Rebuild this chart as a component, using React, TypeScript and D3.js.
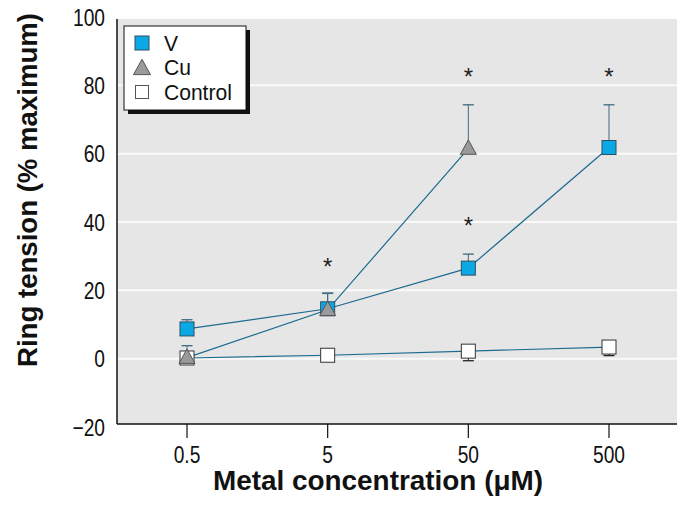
import React from "react";
import * as d3 from "d3";

const concentrations = [0.5, 5, 50, 500];
const xTickLabels = ["0.5", "5", "50", "500"];
const yTicks = [-20, 0, 20, 40, 60, 80, 100];
const gridValues = [0, 20, 40, 60, 80];

const vMean = [8.7, 14.6, 26.5, 61.8];
const vErr = [2.7, 4.6, 4.1, 12.5];
const cuConc = [0.5, 5, 50];
const cuMean = [0.3, 14.3, 61.5];
const cuErr = [3.5, 4.8, 12.8];
const ctrlMean = [0.2, 1.0, 2.2, 3.4];
const ctrlErr = [0.8, 1.8, 2.8, 2.5];

const asterisks = [
  { x: 5, y: 27.7 },
  { x: 50, y: 39.7 },
  { x: 50, y: 83.4 },
  { x: 500, y: 83.4 },
];

const legendItems = ["V", "Cu", "Control"];

const FONT = "'Liberation Sans', Arial, sans-serif";

function T({ x, y, anchor = "start", size = 24, sx = 0.8, weight = "normal", children, dy = "0" }: any) {
  return (
    <text
      transform={`translate(${x},${y}) scale(${sx},1)`}
      dy={dy}
      textAnchor={anchor}
      fontFamily={FONT}
      fontSize={size}
      fontWeight={weight}
      fill="#111"
    >
      {children}
    </text>
  );
}

export default function App() {
  const W = 685, H = 510;
  const plotL = 117, plotR = 677, plotT = 19, plotB = 424;
  const x = d3.scaleLog().domain([0.5, 500]).range([187, 609]);
  const y = d3.scaleLinear().domain([-20, 100]).range([427, 17]);
  const line = d3.line<[number, number]>().x(d => x(d[0])).y(d => y(d[1]));
  const lineColor = "#1d6a90";
  const vFill = "#0aa9e6";
  const cuFill = "#9a9a9a";
  const sq = 14;
  const tri = (cx: number, cy: number, s = 16) => {
    const h = s * 0.9;
    return `M${cx},${cy - h * 0.6} L${cx + s / 2},${cy + h * 0.4} L${cx - s / 2},${cy + h * 0.4} Z`;
  };
  const cap = 5.5;

  return (
    <div style={{ position: "absolute", left: 0, top: 0 }}>
      <svg width={W} height={H} style={{ display: "block", background: "#fff" }}>
        <rect x={plotL} y={plotT} width={plotR - plotL} height={plotB - plotT} fill="#e6e6e6" />
        {gridValues.map(v => (
          <line key={v} x1={plotL} x2={plotR} y1={y(v)} y2={y(v)} stroke="#fafafa" strokeWidth={2} />
        ))}
        {/* axes */}
        <line x1={plotL} x2={plotL} y1={plotT} y2={plotB} stroke="#111" strokeWidth={1.5} />
        <line x1={plotL} x2={plotR} y1={plotB} y2={plotB} stroke="#111" strokeWidth={1.5} />
        {concentrations.map((c, i) => (
          <g key={c}>
            <line x1={x(c)} x2={x(c)} y1={plotB} y2={plotB + 14} stroke="#111" strokeWidth={1.2} />
            <T x={x(c)} y={463} anchor="middle">{xTickLabels[i]}</T>
          </g>
        ))}
        {yTicks.map(v => (
          <T key={v} x={105} y={y(v)} dy="0.36em" anchor="end">
            {v < 0 ? `\u2212${Math.abs(v)}` : v}
          </T>
        ))}
        <text x={378} y={490} textAnchor="middle" fontFamily={FONT} fontSize={27} fontWeight="bold" fill="#111"
          textLength={330} lengthAdjust="spacingAndGlyphs">
          Metal concentration (μM)
        </text>
        <text
          transform={`translate(37,190) rotate(-90)`}
          textAnchor="middle"
          fontFamily={FONT}
          fontSize={27}
          fontWeight="bold"
          fill="#111"
          textLength={354}
          lengthAdjust="spacingAndGlyphs"
        >
          Ring tension (% maximum)
        </text>

        {/* lines */}
        <path d={line(concentrations.map((c, i) => [c, ctrlMean[i]]))!} fill="none" stroke={lineColor} strokeWidth={1.2} />
        <path d={line(concentrations.map((c, i) => [c, vMean[i]]))!} fill="none" stroke={lineColor} strokeWidth={1.2} />
        <path d={line(cuConc.map((c, i) => [c, cuMean[i]]))!} fill="none" stroke={lineColor} strokeWidth={1.2} />

        {/* control */}
        {concentrations.map((c, i) => (
          <g key={"c" + c}>
            <line x1={x(c)} x2={x(c)} y1={y(ctrlMean[i])} y2={y(ctrlMean[i] - ctrlErr[i])} stroke="#222" />
            <line x1={x(c) - cap} x2={x(c) + cap} y1={y(ctrlMean[i] - ctrlErr[i])} y2={y(ctrlMean[i] - ctrlErr[i])} stroke="#222" strokeWidth={1.3} />
            <rect x={x(c) - sq / 2} y={y(ctrlMean[i]) - sq / 2} width={sq} height={sq} fill="#fff" stroke="#333" strokeWidth={1} />
          </g>
        ))}
        {/* V */}
        {concentrations.map((c, i) => (
          <g key={"v" + c}>
            <line x1={x(c)} x2={x(c)} y1={y(vMean[i])} y2={y(vMean[i] + vErr[i])} stroke="#3d6a80" />
            <line x1={x(c) - cap} x2={x(c) + cap} y1={y(vMean[i] + vErr[i])} y2={y(vMean[i] + vErr[i])} stroke="#3d6a80" strokeWidth={1.3} />
            <rect x={x(c) - sq / 2} y={y(vMean[i]) - sq / 2} width={sq} height={sq} fill={vFill} stroke="#2f4f5f" strokeWidth={1} />
          </g>
        ))}
        {/* Cu */}
        {cuConc.map((c, i) => (
          <g key={"cu" + c}>
            <line x1={x(c)} x2={x(c)} y1={y(cuMean[i])} y2={y(cuMean[i] + cuErr[i])} stroke="#3d6a80" />
            <line x1={x(c) - cap} x2={x(c) + cap} y1={y(cuMean[i] + cuErr[i])} y2={y(cuMean[i] + cuErr[i])} stroke="#3d6a80" strokeWidth={1.3} />
            <path d={tri(x(c), y(cuMean[i]))} fill={cuFill} stroke="#555" strokeWidth={1} />
          </g>
        ))}
        {asterisks.map((a, i) => (
          <text key={i} x={x(a.x)} y={y(a.y) + 11} textAnchor="middle" fontFamily={FONT} fontSize={24} fill="#222">
            *
          </text>
        ))}

        {/* legend */}
        <rect x={128} y={30} width={122} height={84} fill="#111" />
        <rect x={124} y={26} width={122} height={84} fill="#fff" stroke="#111" strokeWidth={1} />
        {legendItems.map((name, i) => {
          const cy = 43 + i * 24.5;
          const cx = 142;
          return (
            <g key={name}>
              {i === 0 && <rect x={cx - 7} y={cy - 7} width={14} height={14} fill={vFill} stroke="#2f4f5f" />}
              {i === 1 && <path d={tri(cx, cy + 1, 17)} fill={cuFill} stroke="#555" />}
              {i === 2 && <rect x={cx - 6.5} y={cy - 6.5} width={13} height={13} fill="#fff" stroke="#555" />}
              <T x={164} y={cy} dy="0.36em" size={21.5} sx={0.98}>{name}</T>
            </g>
          );
        })}
      </svg>
    </div>
  );
}
